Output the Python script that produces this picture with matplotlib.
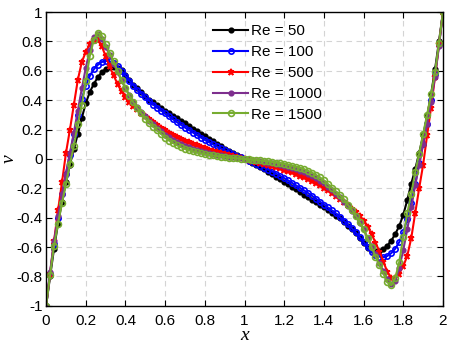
import numpy as np
import matplotlib
matplotlib.use("Agg")
import matplotlib.pyplot as plt

# x positions along the centre line
x = np.round(np.linspace(0, 2, 101), 2)

# v at Re = 50
v_re50 = [-1.0, -0.80, -0.61, -0.44, -0.29, -0.16, -0.04, 0.07, 0.17, 0.28,
          0.38, 0.455, 0.51, 0.555, 0.59, 0.612, 0.625, 0.628, 0.62, 0.603,
          0.575, 0.54, 0.505, 0.48, 0.455, 0.43, 0.405, 0.385, 0.365, 0.345,
          0.33, 0.315, 0.295, 0.278, 0.26, 0.242, 0.225, 0.207, 0.19, 0.172,
          0.155, 0.138, 0.121, 0.104, 0.087, 0.07, 0.055, 0.04, 0.027, 0.013,
          0.0,
          -0.013, -0.027, -0.04, -0.055, -0.07, -0.087, -0.104, -0.121, -0.138, -0.155,
          -0.172, -0.19, -0.207, -0.225, -0.242, -0.26, -0.278, -0.295, -0.315, -0.33,
          -0.345, -0.365, -0.385, -0.405, -0.43, -0.455, -0.48, -0.505, -0.54, -0.575,
          -0.603, -0.62, -0.628, -0.625, -0.612, -0.59, -0.555, -0.51, -0.455, -0.38,
          -0.28, -0.17, -0.07, 0.04, 0.16, 0.29, 0.44, 0.61, 0.80, 1.0]

# v at Re = 100
v_re100 = [-1.0, -0.78, -0.58, -0.40, -0.24, -0.10, 0.03, 0.17, 0.30, 0.41,
           0.50, 0.565, 0.61, 0.64, 0.66, 0.668, 0.665, 0.652, 0.632, 0.60,
           0.565, 0.532, 0.50, 0.47, 0.445, 0.42, 0.395, 0.37, 0.35, 0.33,
           0.31, 0.29, 0.27, 0.25, 0.232, 0.214, 0.197, 0.18, 0.163, 0.146,
           0.13, 0.115, 0.10, 0.086, 0.072, 0.059, 0.047, 0.035, 0.023, 0.012,
           0.0,
           -0.012, -0.023, -0.035, -0.047, -0.059, -0.072, -0.086, -0.10, -0.115, -0.13,
           -0.146, -0.163, -0.18, -0.197, -0.214, -0.232, -0.25, -0.27, -0.29, -0.31,
           -0.33, -0.35, -0.37, -0.395, -0.42, -0.445, -0.47, -0.50, -0.532, -0.565,
           -0.60, -0.632, -0.652, -0.665, -0.668, -0.66, -0.64, -0.61, -0.565, -0.50,
           -0.41, -0.30, -0.17, -0.03, 0.10, 0.24, 0.40, 0.58, 0.78, 1.0]

# v at Re = 500
v_re500 = [-1.0, -0.78, -0.56, -0.35, -0.16, 0.04, 0.20, 0.37, 0.54, 0.66,
           0.73, 0.78, 0.81, 0.81, 0.77, 0.70, 0.63, 0.57, 0.51, 0.46,
           0.42, 0.385, 0.36, 0.34, 0.315, 0.29, 0.27, 0.25, 0.23, 0.213,
           0.197, 0.18, 0.165, 0.15, 0.137, 0.125, 0.113, 0.102, 0.092, 0.082,
           0.073, 0.064, 0.056, 0.048, 0.04, 0.033, 0.026, 0.019, 0.013, 0.006,
           0.0,
           -0.006, -0.013, -0.019, -0.026, -0.033, -0.04, -0.048, -0.056, -0.064, -0.073,
           -0.082, -0.092, -0.102, -0.113, -0.125, -0.137, -0.15, -0.165, -0.18, -0.197,
           -0.213, -0.23, -0.25, -0.27, -0.29, -0.315, -0.34, -0.36, -0.385, -0.42,
           -0.46, -0.51, -0.57, -0.63, -0.70, -0.77, -0.81, -0.81, -0.78, -0.73,
           -0.66, -0.54, -0.37, -0.20, -0.04, 0.16, 0.35, 0.56, 0.78, 1.0]

# v at Re = 1000
v_re1000 = [-1.0, -0.77, -0.56, -0.39, -0.24, -0.10, 0.04, 0.18, 0.33, 0.48,
            0.62, 0.74, 0.83, 0.85, 0.82, 0.765, 0.71, 0.65, 0.59, 0.535,
            0.48, 0.435, 0.39, 0.355, 0.32, 0.29, 0.26, 0.235, 0.21, 0.19,
            0.165, 0.148, 0.13, 0.115, 0.102, 0.09, 0.08, 0.07, 0.061, 0.053,
            0.046, 0.04, 0.034, 0.029, 0.024, 0.019, 0.015, 0.011, 0.007, 0.004,
            0.0,
            -0.004, -0.007, -0.011, -0.015, -0.019, -0.024, -0.029, -0.034, -0.04, -0.046,
            -0.053, -0.061, -0.07, -0.08, -0.09, -0.102, -0.115, -0.13, -0.148, -0.165,
            -0.19, -0.21, -0.235, -0.26, -0.29, -0.32, -0.355, -0.39, -0.435, -0.48,
            -0.535, -0.59, -0.65, -0.71, -0.765, -0.82, -0.85, -0.83, -0.74, -0.62,
            -0.48, -0.33, -0.18, -0.04, 0.10, 0.24, 0.39, 0.56, 0.77, 1.0]

# v at Re = 1500
v_re1500 = [-1.0, -0.79, -0.59, -0.44, -0.30, -0.17, -0.035, 0.09, 0.24, 0.37,
            0.53, 0.70, 0.81, 0.86, 0.84, 0.78, 0.725, 0.665, 0.60, 0.54,
            0.48, 0.43, 0.385, 0.345, 0.31, 0.275, 0.245, 0.22, 0.195, 0.17,
            0.145, 0.125, 0.108, 0.093, 0.08, 0.069, 0.06, 0.052, 0.045, 0.039,
            0.033, 0.028, 0.024, 0.02, 0.016, 0.013, 0.01, 0.007, 0.005, 0.002,
            0.0,
            -0.002, -0.005, -0.007, -0.01, -0.013, -0.016, -0.02, -0.024, -0.028, -0.033,
            -0.039, -0.045, -0.052, -0.06, -0.069, -0.08, -0.093, -0.108, -0.125, -0.145,
            -0.17, -0.195, -0.22, -0.245, -0.275, -0.31, -0.345, -0.385, -0.43, -0.48,
            -0.54, -0.60, -0.665, -0.725, -0.78, -0.84, -0.86, -0.81, -0.70, -0.53,
            -0.37, -0.24, -0.09, 0.035, 0.17, 0.30, 0.44, 0.59, 0.79, 1.0]

labels = ["Re = 50", "Re = 100", "Re = 500", "Re = 1000", "Re = 1500"]
xticks = [0, 0.2, 0.4, 0.6, 0.8, 1, 1.2, 1.4, 1.6, 1.8, 2]
xtick_labels = ["0", "0.2", "0.4", "0.6", "0.8", "1", "1.2", "1.4", "1.6", "1.8", "2"]
yticks = [-1, -0.8, -0.6, -0.4, -0.2, 0, 0.2, 0.4, 0.6, 0.8, 1]
ytick_labels = ["-1", "-0.8", "-0.6", "-0.4", "-0.2", "0", "0.2", "0.4", "0.6", "0.8", "1"]

series = [v_re50, v_re100, v_re500, v_re1000, v_re1500]
colors = ["#000000", "#0000FF", "#FF0000", "#7E2F8E", "#77AC30"]
markers = [".", "o", "*", ".", "o"]
msizes = [6.5, 3.8, 5, 6.5, 4.2]
mfaces = ["#000000", "none", "#FF0000", "#7E2F8E", "none"]

plt.rcParams["font.family"] = ["Liberation Sans", "DejaVu Sans"]

fig = plt.figure(figsize=(4.52, 3.46), dpi=100)
ax = fig.add_axes([0.102, 0.116, 0.878, 0.849])

for v, lab, c, m, ms, mf in zip(series, labels, colors, markers, msizes, mfaces):
    ax.plot(x, v, color=c, lw=1.5, marker=m, ms=ms, mfc=mf, mec=c, mew=1.2, label=lab)

ax.set_xlim(0, 2)
ax.set_ylim(-1, 1)
ax.set_xticks(xticks)
ax.set_xticklabels(xtick_labels)
ax.set_yticks(yticks)
ax.set_yticklabels(ytick_labels)
ax.tick_params(direction="in", length=4, width=0.8, labelsize=11, top=True, right=True)
ax.tick_params(axis="x", pad=6)
ax.tick_params(axis="y", pad=2.5)
ax.grid(True, ls=(0, (5, 4)), color="#d4d4d4", lw=0.8)
ax.set_axisbelow(True)
for s in ax.spines.values():
    s.set_linewidth(1.0)

ax.set_xlabel("x", fontsize=14, family="Liberation Serif", style="italic", labelpad=-1)
ax.set_ylabel("v", fontsize=14, family="Liberation Serif", style="italic",
              va="center", ha="center")
ax.yaxis.set_label_coords(-0.093, 0.5)

ax.legend(loc="upper left", bbox_to_anchor=(0.39, 1.0), frameon=False, fontsize=11,
          handlelength=2.3, handletextpad=0.15, labelspacing=0.45, borderpad=0.3)

fig.savefig("out.png", dpi=100)
